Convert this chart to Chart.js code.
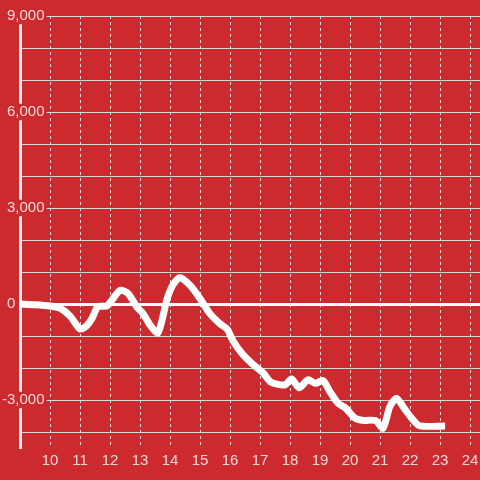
<!DOCTYPE html>
<html>
<head>
<meta charset="utf-8">
<script src="https://cdn.jsdelivr.net/npm/chart.js@4/dist/chart.umd.min.js"></script>
<style>
  html, body { margin:0; padding:0; background:#cc2a2f; }
  canvas { display:block; }
</style>
</head>
<body>
<canvas id="c" width="480" height="480"></canvas>
<script>
// hours of the day (x) and value at that time (y)
const hours = [9.0, 9.5, 10.0, 10.33, 10.67, 11.0, 11.2, 11.4, 11.6, 11.9,
  12.33, 12.6, 12.9, 13.1, 13.33, 13.6, 13.9, 14.1, 14.33, 14.67,
  15.0, 15.33, 15.67, 15.9, 16.1, 16.4, 16.75, 17.1, 17.33, 17.6,
  17.85, 18.05, 18.3, 18.6, 18.85, 19.1, 19.33, 19.6, 19.85, 20.17,
  20.45, 20.85, 21.1, 21.33, 21.55, 21.85, 22.1, 22.33, 23.17];
const values = [0, -20, -60, -130, -380, -780, -700, -450, -80, -60,
  420, 330, -100, -300, -650, -900, 150, 600, 820, 580,
  170, -300, -620, -780, -1150, -1550, -1880, -2150, -2420, -2510,
  -2520, -2340, -2620, -2370, -2480, -2390, -2740, -3100, -3250, -3570,
  -3640, -3640, -3880, -3200, -2950, -3320, -3620, -3810, -3810];
const xTicks = [10, 11, 12, 13, 14, 15, 16, 17, 18, 19, 20, 21, 22, 23, 24];
const yTicks = [-4000, -3000, -2000, -1000, 0, 1000, 2000, 3000, 4000, 5000, 6000, 7000, 8000, 9000];
const yLabelled = [-3000, 0, 3000, 6000, 9000];

const RED = "#cc2a2f";
const GRID = "#ddd6d6";
const TXT = "rgba(255,255,255,0.82)";
const FONT = { family:"'Liberation Sans', Arial, sans-serif", size:15, lineHeight:1.1 };

new Chart(document.getElementById("c"), {
  type:"line",
  data:{
    datasets:[{
      data: hours.map((h, i) => ({ x:h, y:values[i] })),
      borderColor:"#ffffff",
      borderWidth:7,
      pointRadius:0,
      tension:0.25,
      fill:false
    }]
  },
  options:{
    responsive:false,
    animation:false,
    layout:{ padding:{ top:16, left:0, right:0, bottom:0 } },
    plugins:{ legend:{ display:false }, tooltip:{ enabled:false } },
    scales:{
      x:{
        type:"linear",
        min:9, max:24.333,
        afterBuildTicks: s => { s.ticks = xTicks.map(v => ({ value:v })); },
        afterFit: s => { s.height = 32; s.paddingLeft = 0; s.paddingRight = 0; },
        grid:{ color:"#e6dede", lineWidth:1, drawTicks:false },
        border:{ display:false, dash:[3,3] },
        ticks:{ color:TXT, font:FONT, padding:5, maxRotation:0, autoSkip:false,
          callback: v => String(v) }
      },
      y:{
        min:-4500, max:9000,
        afterBuildTicks: s => { s.ticks = yTicks.map(v => ({ value:v })); },
        afterFit: s => { s.width = 20; s.paddingTop = 0; s.paddingBottom = 0; },
        ticks:{
          autoSkip:false,
          mirror:true,
          crossAlign:"far",
          padding:-18,
          color:TXT,
          font:FONT,
          callback: v => {
            if (!yLabelled.includes(v)) return "";
            if (v === 0) return "0       ";
            return v.toLocaleString("en-US");
          },
          showLabelBackdrop: ctx => !!ctx.tick && yLabelled.includes(ctx.tick.value) && ctx.tick.value !== 0,
          backdropColor:RED,
          backdropPadding:{ left:2, right:2, top:0, bottom:0 }
        },
        grid:{
          drawTicks:false,
          color: ctx => ctx.tick && ctx.tick.value === 0 ? "#ffffff" : GRID,
          lineWidth: ctx => ctx.tick && ctx.tick.value === 0 ? 3 : 1
        },
        border:{ display:true, color:"#f4eeee", width:3 }
      }
    }
  }
});
</script>
</body>
</html>
